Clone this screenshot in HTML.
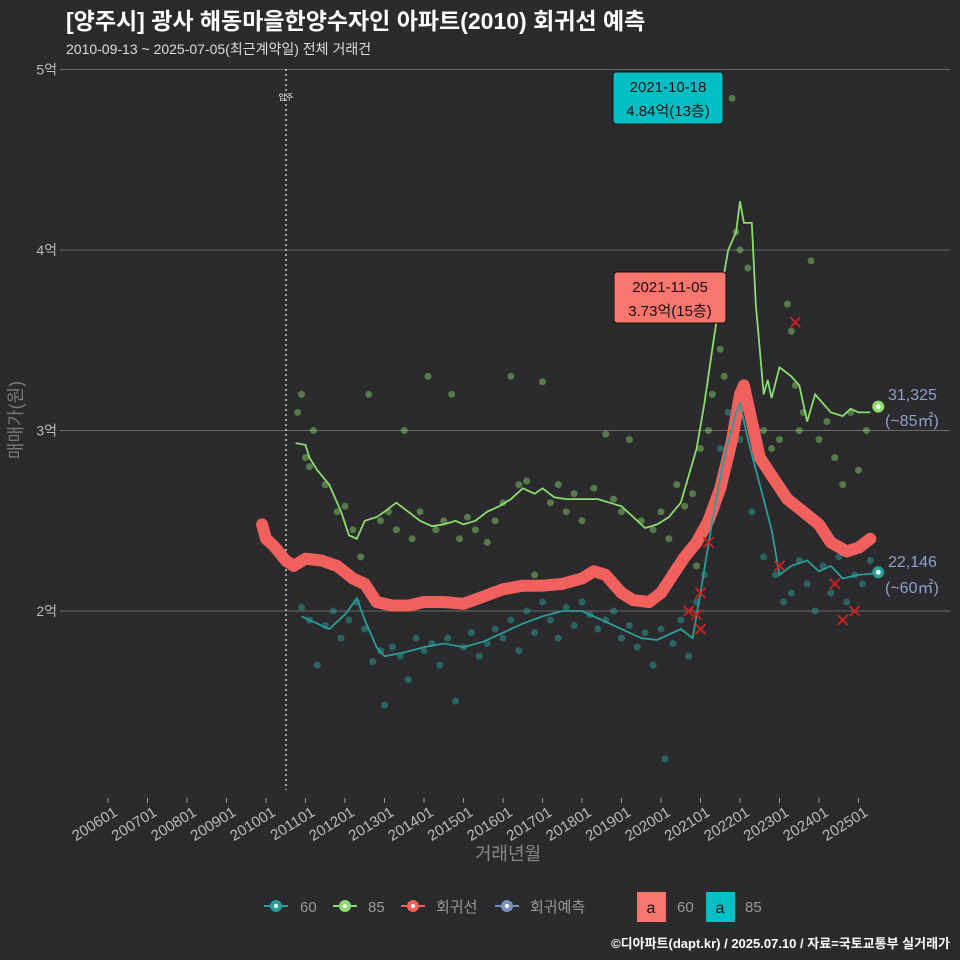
<!DOCTYPE html>
<html><head><meta charset="utf-8">
<style>
html,body{margin:0;padding:0;background:#2b2b2d;}
body{width:960px;height:960px;overflow:hidden;font-family:"Liberation Sans","Noto Sans CJK KR",sans-serif;}
svg{display:block;}
</style></head>
<body>
<svg id="chart" width="960" height="960" xmlns="http://www.w3.org/2000/svg" font-family="Liberation Sans, Noto Sans CJK KR, sans-serif">
<rect width="960" height="960" fill="#2b2b2d"/>
<text x="66" y="29" fill="#ffffff" font-size="23" font-weight="bold">[양주시] 광사 해동마을한양수자인 아파트(2010) 회귀선 예측</text>
<text x="66" y="54" fill="#dddddd" font-size="14">2010-09-13 ~ 2025-07-05(최근계약일) 전체 거래건</text>
<g id="grid"></g>
<g id="marks"></g>
<text transform="translate(22,420) rotate(-90)" text-anchor="middle" fill="#777" font-size="18">매매가(원)</text>
<text x="508" y="860" text-anchor="middle" fill="#888" font-size="18">거래년월</text>
<g font-size="15" fill="#999">
  <g><line x1="264" y1="906" x2="288" y2="906" stroke="#2a9d9a" stroke-width="2"/><circle cx="276" cy="906" r="6" fill="#2a9d9a"/><circle cx="276" cy="906" r="2" fill="#fff"/><text x="300" y="912">60</text></g>
  <g><line x1="333" y1="906" x2="357" y2="906" stroke="#8ddc6e" stroke-width="2"/><circle cx="345" cy="906" r="6" fill="#8ddc6e"/><circle cx="345" cy="906" r="2" fill="#fff"/><text x="368" y="912">85</text></g>
  <g><line x1="401" y1="906" x2="425" y2="906" stroke="#f0605d" stroke-width="2"/><circle cx="413" cy="906" r="6" fill="#f0605d"/><circle cx="413" cy="906" r="2" fill="#fff"/><text x="436" y="912">회귀선</text></g>
  <g><line x1="495" y1="906" x2="519" y2="906" stroke="#7a90c0" stroke-width="2"/><circle cx="507" cy="906" r="6" fill="#7a90c0"/><circle cx="507" cy="906" r="2" fill="#fff"/><text x="530" y="912">회귀예측</text></g>
  <g><rect x="637" y="892" width="29" height="30" fill="#f8766d"/><text x="651" y="913" text-anchor="middle" fill="#111" font-size="16">a</text><text x="677" y="912">60</text></g>
  <g><rect x="706" y="892" width="29" height="30" fill="#00bfc4"/><text x="720" y="913" text-anchor="middle" fill="#111" font-size="16">a</text><text x="745" y="912">85</text></g>
</g>
<text x="950" y="948" text-anchor="end" fill="#fff" font-size="13" font-weight="bold">©디아파트(dapt.kr) / 2025.07.10 / 자료=국토교통부 실거래가</text>
</svg>
<script>
const yTicks=[2,3,4,5];
const yTickLabels=["2억","3억","4억","5억"];
const xTickYears=[2006,2007,2008,2009,2010,2011,2012,2013,2014,2015,2016,2017,2018,2019,2020,2021,2022,2023,2024,2025];
const xTickLabels=["200601","200701","200801","200901","201001","201101","201201","201301","201401","201501","201601","201701","201801","201901","202001","202101","202201","202301","202401","202501"];
const line85T=[2010.75,2011.0,2011.1,2011.3,2011.6,2011.9,2012.1,2012.3,2012.5,2012.8,2013.0,2013.3,2013.6,2013.9,2014.2,2014.5,2014.8,2015.0,2015.3,2015.6,2015.9,2016.2,2016.5,2016.8,2017.0,2017.3,2017.6,2018.0,2018.4,2018.7,2019.0,2019.3,2019.6,2019.9,2020.2,2020.5,2020.7,2020.9,2021.1,2021.3,2021.5,2021.7,2021.9,2022.0,2022.1,2022.3,2022.4,2022.6,2022.7,2022.8,2023.0,2023.3,2023.5,2023.7,2023.9,2024.1,2024.3,2024.6,2024.8,2025.0,2025.3];
const line85V=[2.93,2.92,2.85,2.78,2.70,2.55,2.42,2.40,2.50,2.52,2.55,2.60,2.55,2.50,2.47,2.48,2.50,2.48,2.50,2.55,2.58,2.62,2.68,2.65,2.68,2.63,2.62,2.62,2.62,2.60,2.58,2.52,2.46,2.48,2.52,2.60,2.75,2.90,3.15,3.45,3.75,4.00,4.10,4.27,4.15,4.15,3.70,3.20,3.28,3.18,3.35,3.30,3.25,3.05,3.20,3.15,3.10,3.08,3.12,3.10,3.10];
const line60T=[2010.9,2011.3,2011.6,2012.0,2012.3,2012.5,2012.8,2013.0,2013.5,2014.0,2014.5,2015.0,2015.5,2016.0,2016.5,2017.0,2017.5,2018.0,2018.5,2019.0,2019.5,2019.9,2020.2,2020.5,2020.8,2021.0,2021.3,2021.6,2021.9,2022.0,2022.2,2022.5,2022.8,2023.0,2023.3,2023.7,2024.0,2024.3,2024.6,2025.0,2025.5];
const line60V=[1.97,1.93,1.90,1.98,2.07,1.95,1.80,1.75,1.77,1.80,1.82,1.80,1.83,1.88,1.93,1.97,2.00,2.00,1.95,1.90,1.85,1.84,1.87,1.90,1.85,2.10,2.50,2.85,3.10,3.15,2.95,2.70,2.45,2.20,2.25,2.28,2.22,2.25,2.18,2.20,2.21];
const regT=[2009.9,2010.0,2010.2,2010.5,2010.7,2011.0,2011.4,2011.8,2012.2,2012.5,2012.8,2013.2,2013.6,2014.0,2014.5,2015.0,2015.5,2016.0,2016.5,2017.0,2017.5,2018.0,2018.3,2018.6,2019.0,2019.3,2019.7,2020.0,2020.3,2020.6,2020.9,2021.2,2021.5,2021.8,2022.0,2022.1,2022.3,2022.5,2022.8,2023.2,2023.6,2024.0,2024.3,2024.7,2025.0,2025.3];
const regV=[2.48,2.40,2.36,2.28,2.25,2.29,2.28,2.25,2.18,2.15,2.05,2.03,2.03,2.05,2.05,2.04,2.08,2.12,2.14,2.14,2.15,2.18,2.22,2.20,2.10,2.06,2.05,2.10,2.20,2.30,2.38,2.50,2.68,2.95,3.20,3.25,3.05,2.85,2.75,2.62,2.55,2.48,2.38,2.33,2.35,2.40];
const pts85T=[2010.8,2010.9,2011.0,2011.1,2011.2,2011.5,2011.8,2012.0,2012.2,2012.4,2012.6,2012.9,2013.1,2013.3,2013.5,2013.7,2013.9,2014.1,2014.3,2014.5,2014.7,2014.9,2015.1,2015.3,2015.6,2015.8,2016.0,2016.2,2016.4,2016.6,2016.8,2017.0,2017.2,2017.4,2017.6,2017.8,2018.0,2018.3,2018.6,2018.8,2019.0,2019.2,2019.5,2019.8,2020.0,2020.2,2020.4,2020.6,2020.8,2020.9,2021.0,2021.2,2021.3,2021.5,2021.6,2021.8,2021.9,2022.0,2022.2,2022.6,2022.8,2023.0,2023.2,2023.3,2023.4,2023.5,2023.6,2023.8,2024.0,2024.2,2024.4,2024.6,2024.8,2025.0,2025.2];
const pts85V=[3.1,3.2,2.85,2.8,3.0,2.7,2.55,2.58,2.45,2.3,3.2,2.5,2.55,2.45,3.0,2.4,2.55,3.3,2.45,2.5,3.2,2.4,2.52,2.45,2.38,2.5,2.6,3.3,2.7,2.72,2.2,3.27,2.6,2.7,2.55,2.65,2.5,2.68,2.98,2.62,2.55,2.95,2.5,2.45,2.55,2.4,2.7,2.58,2.65,2.25,2.9,3.0,3.2,3.45,3.3,4.84,4.1,4.0,3.9,3.0,2.9,2.95,3.7,3.55,3.25,3.0,3.1,3.94,2.95,3.05,2.85,2.7,3.1,2.78,3.0];
const pts60T=[2010.9,2011.1,2011.3,2011.5,2011.7,2011.9,2012.1,2012.3,2012.5,2012.7,2012.9,2013.0,2013.2,2013.4,2013.6,2013.8,2014.0,2014.2,2014.4,2014.6,2014.8,2015.0,2015.2,2015.4,2015.6,2015.8,2016.0,2016.2,2016.4,2016.6,2016.8,2017.0,2017.2,2017.4,2017.6,2017.8,2018.0,2018.2,2018.4,2018.6,2018.8,2019.0,2019.2,2019.4,2019.6,2019.8,2020.0,2020.1,2020.3,2020.5,2020.7,2020.9,2021.1,2021.3,2021.5,2021.7,2022.0,2022.3,2022.6,2022.9,2023.1,2023.3,2023.5,2023.7,2023.9,2024.1,2024.3,2024.5,2024.7,2024.9,2025.1,2025.3];
const pts60V=[2.02,1.95,1.7,1.92,2.0,1.85,1.95,2.05,1.9,1.72,1.78,1.48,1.8,1.75,1.62,1.85,1.78,1.82,1.7,1.85,1.5,1.8,1.88,1.75,1.82,1.9,1.85,1.95,1.78,2.0,1.88,2.05,1.95,1.85,2.02,1.92,2.05,1.98,1.9,1.95,2.0,1.85,1.92,1.8,1.88,1.7,1.9,1.18,1.82,1.95,1.75,2.05,2.2,2.6,2.9,3.1,2.95,2.55,2.3,2.2,2.05,2.1,2.28,2.15,2.0,2.25,2.1,2.3,2.05,2.2,2.15,2.28];
const xMarkT=[2020.7,2020.9,2021.0,2021.0,2021.2,2023.0,2023.4,2024.4,2024.6,2024.9];
const xMarkV=[2.0,1.98,1.9,2.1,2.38,2.25,3.6,2.15,1.95,2.0];

const NS="http://www.w3.org/2000/svg";
const X=t=>108+(t-2006)*39.5;
const Y=v=>611-(v-2)*180.5;
const grid=document.getElementById('grid'), marks=document.getElementById('marks');
function mk(tag,attrs,parent){const e=document.createElementNS(NS,tag);for(const k in attrs)e.setAttribute(k,attrs[k]);parent.appendChild(e);return e;}

yTicks.forEach((v,i)=>{
  const l=mk('line',{x1:60,x2:950,y1:Y(v),y2:Y(v),stroke:'#6a6a6a','stroke-width':1},grid);
  
  
  const t=mk('text',{x:57,y:Y(v)+5,'text-anchor':'end',fill:'#bbb','font-size':14},grid);
  t.textContent=yTickLabels[i];
  
  
});
xTickYears.forEach((yr,i)=>{
  const x=X(yr);
  const tk=mk('line',{x1:x,x2:x,y1:798,y2:803,stroke:'#999'},grid);
  
  
  const t=mk('text',{transform:`translate(${x+5},${806}) rotate(-32)`,'text-anchor':'end',fill:'#bbb','font-size':15,'dominant-baseline':'hanging'},grid);
  t.textContent=xTickLabels[i];
  
  
});
const mv=mk('line',{x1:286,x2:286,y1:69,y2:790,stroke:'#ccc','stroke-dasharray':'2,3','stroke-width':1.5},grid);


const mvt=mk('text',{x:286,y:100,'text-anchor':'middle',fill:'#fff','font-size':8},grid);
mvt.textContent='입주';



pts85T.forEach((t,i)=>{const c=mk('circle',{cx:X(t),cy:Y(pts85V[i]),r:3.5,fill:'#8ddc6e','fill-opacity':0.45},marks);
  
  });
pts60T.forEach((t,i)=>{const c=mk('circle',{cx:X(t),cy:Y(pts60V[i]),r:3.5,fill:'#2a9d9a','fill-opacity':0.5},marks);
  
  });
function path(T,V){return T.map((t,i)=>(i?'L':'M')+X(t).toFixed(1)+','+Y(V[i]).toFixed(1)).join('');}
const rl=mk('path',{d:path(regT,regV),fill:'none',stroke:'#f0605d','stroke-width':12,'stroke-linejoin':'round','stroke-linecap':'round'},marks);


const l60=mk('path',{d:path(line60T,line60V),fill:'none',stroke:'#2a9d9a','stroke-width':1.8},marks);


const l85=mk('path',{d:path(line85T,line85V),fill:'none',stroke:'#8ddc6e','stroke-width':1.8},marks);


xMarkT.forEach((t,i)=>{const x=X(t),y=Y(xMarkV[i]);
  const p=mk('path',{d:`M${x-5},${y-5}L${x+5},${y+5}M${x-5},${y+5}L${x+5},${y-5}`,stroke:'#d42020','stroke-width':1.8},marks);
  
  });
const e85=mk('circle',{cx:X(2025.5),cy:Y(3.1325),r:6,fill:'#8ddc6e'},marks);


mk('circle',{cx:X(2025.5),cy:Y(3.1325),r:2.5,fill:'#fff'},marks);
const e60=mk('circle',{cx:X(2025.5),cy:Y(2.2146),r:6,fill:'#2a9d9a'},marks);


mk('circle',{cx:X(2025.5),cy:Y(2.2146),r:2.5,fill:'#fff'},marks);
[[400,'31,325'],[426,'(~85㎡)'],[567,'22,146'],[593,'(~60㎡)']].forEach(a=>{
  const t=mk('text',{x:a[1][0]=='('?885:888,y:a[0],fill:'#8fa0c8','font-size':16},marks);
  t.textContent=a[1];
  
  });
function box(x,y,w,h,fill,l1,l2,name){
  const g=mk('g',{},marks);
  
  
  mk('rect',{x:x,y:y,width:w,height:h,rx:3,fill:fill,stroke:'#111','stroke-width':1},g);
  const a=mk('text',{x:x+w/2,y:y+20,'text-anchor':'middle',fill:'#111','font-size':15},g);a.textContent=l1;
  const b=mk('text',{x:x+w/2,y:y+44,'text-anchor':'middle',fill:'#111','font-size':15},g);b.textContent=l2;
}
box(613,72,110,52,'#00bfc4','2021-10-18','4.84억(13층)','max-annotation-85');
box(614,272,112,51,'#f8766d','2021-11-05','3.73억(15층)','max-annotation-60');
</script>
</body></html>
